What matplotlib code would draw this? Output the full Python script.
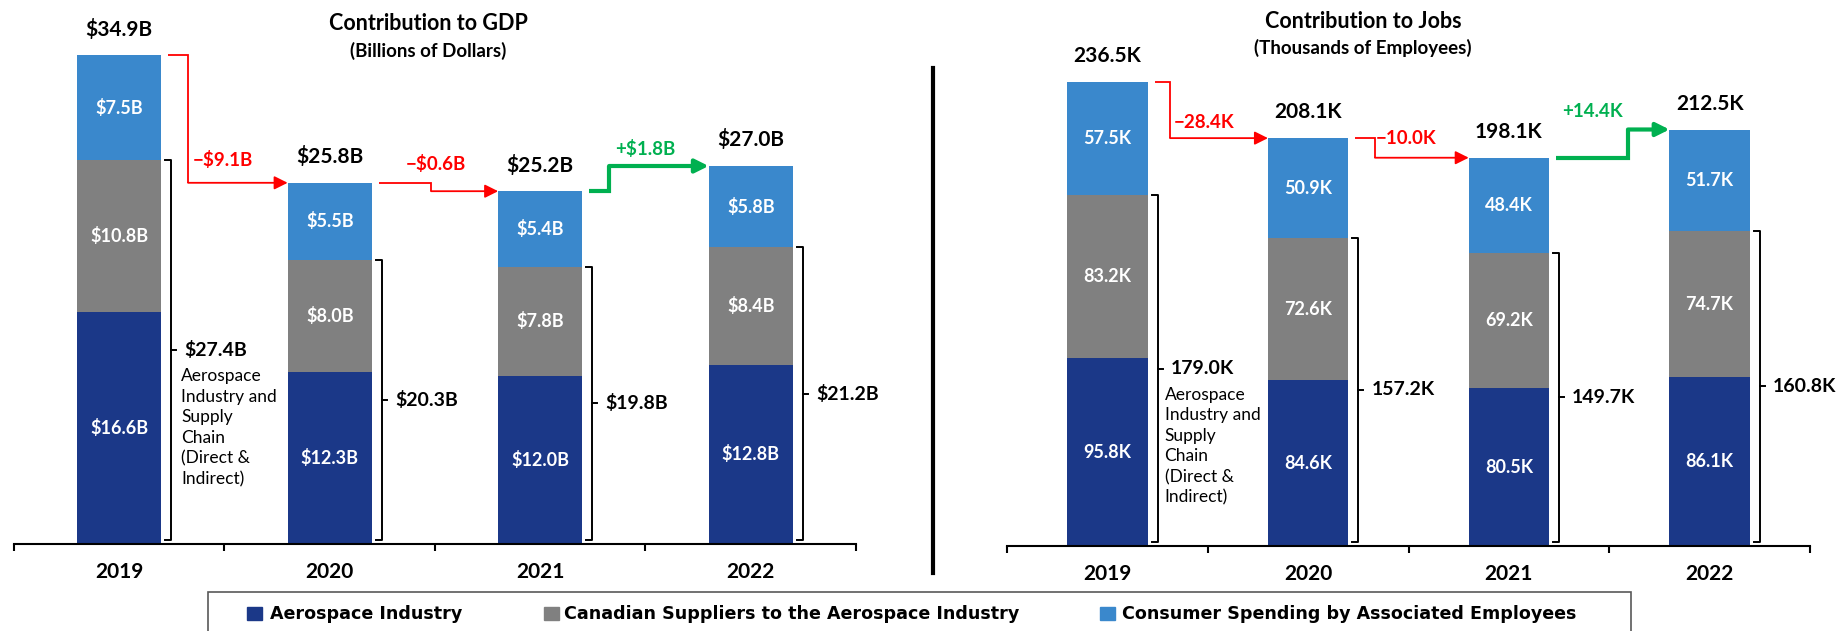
import numpy as np
import matplotlib.pyplot as plt
from matplotlib.patches import Rectangle
from matplotlib.lines import Line2D

# data
years = ['2019', '2020', '2021', '2022']
series = ['Aerospace Industry',
          'Canadian Suppliers to the Aerospace Industry',
          'Consumer Spending by Associated Employees']
gdp_aero = [16.6, 12.3, 12.0, 12.8]
gdp_supp = [10.8, 8.0, 7.8, 8.4]
gdp_cons = [7.5, 5.5, 5.4, 5.8]
jobs_aero = [95.8, 84.6, 80.5, 86.1]
jobs_supp = [83.2, 72.6, 69.2, 74.7]
jobs_cons = [57.5, 50.9, 48.4, 51.7]
desc = 'Aerospace\nIndustry and\nSupply\nChain\n(Direct &\nIndirect)'

NAVY = '#1B3888'
GRAY = '#808080'
BLUE = '#3A88CC'
RED = '#FF0000'
GREEN = '#00B050'
colors = [NAVY, GRAY, BLUE]

plt.rcParams['font.family'] = ['Lato', 'DejaVu Sans']

W, H = 1843, 631
fig = plt.figure(figsize=(W / 100, H / 100), dpi=100)


def fmt_b(v):
    return '${:.1f}B'.format(v)


def dfmt_b(d):
    return '{}${:.1f}B'.format('+' if d > 0 else '\u2212', abs(d))


def fmt_k(v):
    return '{:.1f}K'.format(v)


def dfmt_k(d):
    return '{}{:.1f}K'.format('+' if d > 0 else '\u2212', abs(d))


def panel(rect, ymax, aero, supp, cons, fmt, dfmt, conns, desc_off):
    l, t, r, b = rect
    ax = fig.add_axes([l / W, 1 - b / H, (r - l) / W, (b - t) / H])
    sx = (r - l) / 4.0
    sy = (b - t) / ymax
    x = np.arange(len(years))
    aero, supp, cons = np.array(aero), np.array(supp), np.array(cons)
    bw = 0.4

    ax.bar(x, aero, bw, color=colors[0])
    ax.bar(x, supp, bw, bottom=aero, color=colors[1])
    ax.bar(x, cons, bw, bottom=aero + supp, color=colors[2])

    core = aero + supp
    total = core + cons

    for i in x:
        for base, v in ((0, aero[i]), (aero[i], supp[i]), (core[i], cons[i])):
            ax.text(i, base + v / 2, fmt(v), ha='center', va='center',
                    color='white', fontsize=13, fontweight='bold')
        ax.annotate(fmt(total[i]), (i, total[i]), xytext=(0, 26),
                    textcoords='offset pixels', ha='center', va='center',
                    fontsize=15, fontweight='bold')

        # bracket around industry + suppliers
        bx = i + bw / 2 + 10 / sx
        y0, y1 = 4 / sy, core[i]
        ax.plot([bx - 6 / sx, bx, bx, bx - 6 / sx], [y1, y1, y0, y0],
                color='black', lw=1.4, clip_on=False)
        ym = (y0 + y1) / 2
        ax.plot([bx, bx + 5 / sx], [ym, ym], color='black', lw=1.4, clip_on=False)
        ax.text(bx + 13 / sx, ym, fmt(core[i]), ha='left', va='center',
                fontsize=14, fontweight='bold')
        if i == 0:
            ax.annotate(desc, (bx, ym), xytext=desc_off, textcoords='offset pixels',
                        ha='left', va='top', fontsize=12.5, linespacing=1.35)

    # waterfall connectors
    for i in range(len(years) - 1):
        d = round(total[i + 1] - total[i], 1)
        col = GREEN if d > 0 else RED
        lw = 3 if d > 0 else 1.3
        xv = i + conns[i][0]
        xs = i + bw / 2 + 7 / sx
        xt = i + 1 - bw / 2
        ax.plot([xs, xv, xv], [total[i], total[i], total[i + 1]], color=col, lw=lw,
                solid_joinstyle='miter', solid_capstyle='butt')
        ax.annotate('', xy=(xt, total[i + 1]), xytext=(xv, total[i + 1]),
                    arrowprops=dict(arrowstyle='-|>', color=col, lw=lw,
                                    shrinkA=0, shrinkB=0, mutation_scale=20))
        ax.annotate(dfmt(d), (i + conns[i][1], total[i + 1]), xytext=(0, conns[i][2]),
                    textcoords='offset pixels', ha='center', va='center',
                    color=col, fontsize=13.5, fontweight='bold')

    ax.set_xlim(-0.5, 3.5)
    ax.set_ylim(0, ymax)
    ax.set_xticks(x, years)
    ax.set_xticks(np.arange(-0.5, 4, 1), minor=True)
    ax.tick_params(axis='x', which='major', length=0, pad=13, labelsize=15)
    ax.tick_params(axis='x', which='minor', length=5, width=1.5)
    for lab in ax.get_xticklabels():
        lab.set_fontweight('bold')
    ax.set_yticks([])
    for s in ('top', 'left', 'right'):
        ax.spines[s].set_visible(False)
    ax.spines['bottom'].set_linewidth(1.5)
    ax.patch.set_alpha(0)
    return ax


panel((14, 0, 856, 544), 544 / 14.0, gdp_aero, gdp_supp, gdp_cons, fmt_b, dfmt_b,
      [(0.327, 0.493, 23), (0.481, 0.505, 27), (0.327, 0.498, 17)], (10, -18))
panel((1007, 0, 1810, 546), 546 / 1.96, jobs_aero, jobs_supp, jobs_cons, fmt_k, dfmt_k,
      [(0.312, 0.481, 16), (0.333, 0.488, 19), (0.593, 0.419, 18)], (7, -18))

# titles
fig.text(428 / W, 1 - 24 / H, 'Contribution to GDP', ha='center', va='center',
         fontsize=15.5, fontweight='bold')
fig.text(428 / W, 1 - 51 / H, '(Billions of Dollars)', ha='center', va='center',
         fontsize=13.5, fontweight='bold')
fig.text(1363 / W, 1 - 21 / H, 'Contribution to Jobs', ha='center', va='center',
         fontsize=15.5, fontweight='bold')
fig.text(1363 / W, 1 - 48 / H, '(Thousands of Employees)', ha='center', va='center',
         fontsize=13.5, fontweight='bold')

# divider
fig.add_artist(Line2D([933 / W, 933 / W], [1 - 68 / H, 1 - 573 / H], color='black', lw=3))

# legend box
fig.add_artist(Rectangle((208 / W, 1 - 645 / H), (1631 - 208) / W, 53 / H,
                         transform=fig.transFigure, fill=False, edgecolor='#595959', lw=1.2))
for sxp, txp, name, c in zip([247, 544, 1100], [270, 564, 1122], series, colors):
    fig.add_artist(Rectangle((sxp / W, 1 - 620 / H), 15 / W, 13 / H,
                             transform=fig.transFigure, color=c))
    fig.text(txp / W, 1 - 614 / H, name, ha='left', va='center', fontsize=12.6,
             fontweight='bold', family=['DejaVu Sans'])

fig.savefig('out.png', dpi=100)
